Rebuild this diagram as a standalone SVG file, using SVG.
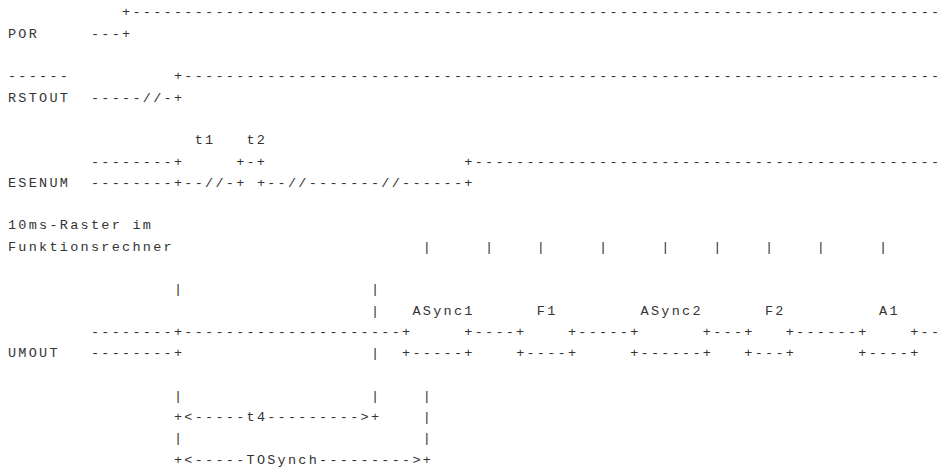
<svg xmlns="http://www.w3.org/2000/svg" width="947" height="468" viewBox="0 0 947 468">
<style>
text{font-family:"Liberation Mono","DejaVu Sans Mono",monospace;font-size:13.5px;letter-spacing:2.27px;fill:#333;white-space:pre}
</style>
<rect width="947" height="468" fill="#fff"/>
<g id="POR">
<text x="122.07" y="16.4">+------------------------------------------------------------------------------</text>
<text x="8" y="37.7">POR</text>
<text x="90.96" y="37.7">---+</text>
</g>
<g id="RSTOUT">
<text x="8" y="80.3">------</text>
<text x="173.92" y="80.3">+-------------------------------------------------------------------------</text>
<text x="8" y="101.6">RSTOUT</text>
<text x="90.96" y="101.6">-----//-+</text>
</g>
<g id="ESENUM">
<text x="194.66" y="144.2">t1</text>
<text x="246.51" y="144.2">t2</text>
<text x="90.96" y="165.5">--------+</text>
<text x="236.14" y="165.5">+-+</text>
<text x="464.28" y="165.5">+---------------------------------------------</text>
<text x="8" y="186.8">ESENUM</text>
<text x="90.96" y="186.8">--------+--//-+</text>
<text x="256.88" y="186.8">+--//-------//------+</text>
</g>
<g id="Raster">
<text x="8" y="229.4">10ms-Raster im</text>
<text x="8" y="250.7">Funktionsrechner</text>
<text x="422.8" y="250.7">|</text>
<text x="485.02" y="250.7">|</text>
<text x="536.87" y="250.7">|</text>
<text x="599.09" y="250.7">|</text>
<text x="661.31" y="250.7">|</text>
<text x="713.16" y="250.7">|</text>
<text x="765.01" y="250.7">|</text>
<text x="816.86" y="250.7">|</text>
<text x="879.08" y="250.7">|</text>
</g>
<g id="UMOUT">
<text x="173.92" y="293.3">|</text>
<text x="370.95" y="293.3">|</text>
<text x="370.95" y="314.6">|</text>
<text x="412.43" y="314.6">ASync1</text>
<text x="536.87" y="314.6">F1</text>
<text x="640.57" y="314.6">ASync2</text>
<text x="765.01" y="314.6">F2</text>
<text x="879.08" y="314.6">A1</text>
<text x="90.96" y="335.9">--------+---------------------+</text>
<text x="464.28" y="335.9">+----+</text>
<text x="567.98" y="335.9">+-----+</text>
<text x="702.79" y="335.9">+---+</text>
<text x="785.75" y="335.9">+------+</text>
<text x="910.19" y="335.9">+--</text>
<text x="8" y="357.2">UMOUT</text>
<text x="90.96" y="357.2">--------+</text>
<text x="370.95" y="357.2">|</text>
<text x="402.06" y="357.2">+-----+</text>
<text x="516.13" y="357.2">+----+</text>
<text x="630.2" y="357.2">+------+</text>
<text x="744.27" y="357.2">+---+</text>
<text x="858.34" y="357.2">+----+</text>
</g>
<g id="connectors">
<text x="173.92" y="399.8">|</text>
<text x="370.95" y="399.8">|</text>
<text x="422.8" y="399.8">|</text>
<text x="173.92" y="421.1">+&lt;-----t4---------&gt;+</text>
<text x="422.8" y="421.1">|</text>
<text x="173.92" y="442.4">|</text>
<text x="422.8" y="442.4">|</text>
<text x="173.92" y="463.7">+&lt;-----TOSynch---------&gt;+</text>
</g>
</svg>
